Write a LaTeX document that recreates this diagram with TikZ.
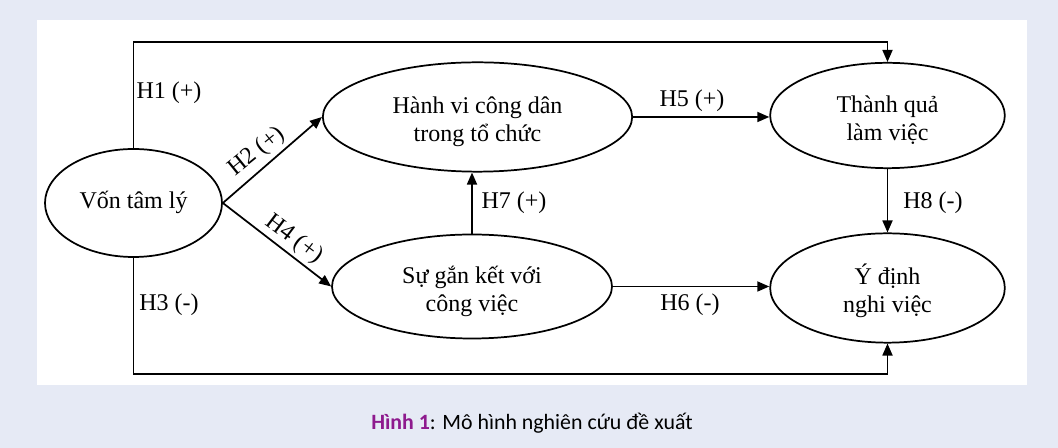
\documentclass[tikz,border=0pt]{standalone}
\usepackage{fontspec}
\setmainfont{Liberation Serif}
\newfontfamily\capfont{Carlito}
\usetikzlibrary{shapes.geometric,arrows.meta,calc}
\definecolor{pagebg}{HTML}{E6EAF5}
\definecolor{hpurple}{HTML}{8E1A8E}
\begin{document}
\begin{tikzpicture}[x=0.75pt,y=-0.75pt,
  ell/.style={draw,ellipse,line width=1.3pt,inner sep=0pt,align=center,font=\fontsize{18}{21}\selectfont},
  conn/.style={line width=1.3pt,-{Triangle[length=9pt,width=7.5pt]}},
  lab/.style={font=\fontsize{18}{21}\selectfont,inner sep=0pt}]
\fill[pagebg] (0,0) rectangle (1058,448);
\useasboundingbox (0,0) rectangle (1058,448);
\fill[white] (37,20) rectangle (1027,385);
% nodes
\node[ell,minimum width=132.75pt,minimum height=81pt] (v) at (133.5,203) {\strut Vốn tâm lý};
\node[ell,minimum width=232pt,minimum height=82pt] (h) at (477.5,117) {\rule{0pt}{20pt}Hành vi công dân\\trong tổ chức};
\node[ell,minimum width=210pt,minimum height=78pt] (s) at (472,286.5) {\rule{0pt}{20pt}Sự gắn kết với\\công việc};
\node[ell,minimum width=176pt,minimum height=79pt] (t) at (887.5,115.5) {\rule{0pt}{20pt}Thành quả\\làm việc};
\node[ell,minimum width=176pt,minimum height=82pt] (y) at (887.5,288) {\rule{0pt}{20pt}Ý định\\nghi việc};
\coordinate (topy) at (0,42);
\coordinate (boty) at (0,374);
% connectors
\draw[conn] (v.north) -- (v.north |- topy) -| (t.north);
\draw[conn] (v.south) -- (v.south |- boty) -| (y.south);
\draw[conn] (v.east) -- (h.west);
\draw[conn] (v.east) -- (s.west);
\draw[conn] (h.east) -- (h.east -| t.west);
\draw[conn] (s.east) -- (s.east -| y.west);
\draw[conn] (s.north) -- (s.north |- h.south);
\draw[conn] (t.south) -- (y.north);
% labels
\node[lab] (l1) at (169,93) {H1 (+)};
\node[lab] (l3) at (169,305) {H3 (-)};
\node[lab,rotate=39] (l2) at (257,152) {H2 (+)};
\node[lab,rotate=-37] (l4) at (294,239) {H4 (+)};
\node[lab] (l5) at (692,101) {H5 (+)};
\node[lab] (l6) at (690,305) {H6 (-)};
\node[lab] (l7) at (514,203) {H7 (+)};
\node[lab] (l8) at (933,203) {H8 (-)};
% caption
\node[inner sep=0pt,font=\capfont\fontsize{16.4}{19}\selectfont] (cap) at (532,423) {\textcolor{hpurple}{\textbf{Hình 1}}: Mô hình nghiên cứu đề xuất};
\end{tikzpicture}
\end{document}
